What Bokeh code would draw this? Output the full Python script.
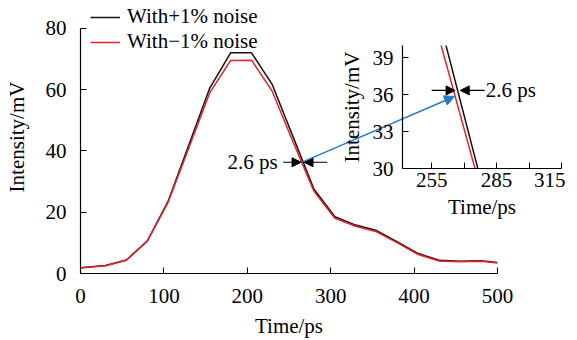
from bokeh.plotting import figure
from bokeh.models import (Range1d, FixedTicker, Legend, LegendItem, Arrow,
                          NormalHead, Label)
from bokeh.layouts import column
from bokeh.embed import file_html
from bokeh.resources import INLINE

# ---------------- data ----------------
time_ps = [0, 30, 55, 80, 105, 130, 155, 180, 205, 230, 255, 280, 305, 330,
           355, 380, 405, 430, 455, 480, 500]
plus_noise = [1.9, 2.6, 4.4, 10.6, 23.5, 42.0, 60.5, 72.0, 72.0, 61.6, 44.5,
              27.5, 18.5, 15.8, 14.0, 10.3, 6.5, 4.3, 4.0, 4.2, 3.6]
minus_noise = [1.8, 2.5, 4.3, 10.5, 23.2, 41.0, 59.0, 69.5, 69.6, 59.4, 42.8,
               26.8, 18.0, 15.4, 13.6, 10.0, 6.2, 4.1, 3.8, 4.0, 3.4]

main_x_ticks = [0, 100, 200, 300, 400, 500]
main_y_ticks = [0, 20, 40, 60, 80]
inset_x_ticks = [255, 285, 315]
inset_x_minor = [270, 300]
inset_y_ticks = [30, 33, 36, 39]

series_labels = ["With+1% noise", "With\u22121% noise"]
shift_label = "2.6 ps"

FONT = "Liberation Serif"
FS = "21px"
BLACK = "#111111"
RED = "#e8202a"
BLUE = "#2a7bc6"

# ---------------- layout constants ----------------
W, H = 577, 340
M_LEFT, M_RIGHT, M_TOP, M_BOTTOM = 80, 80, 0, 65
AXIS_TOP_PX = 28            # where the value 80 sits
MX0, MX1, MY0, MY_AX = 0, 500, 0, 80
FW = W - M_LEFT - M_RIGHT
FH = H - M_TOP - M_BOTTOM
MY1 = MY0 + (MY_AX - MY0) * FH / (H - M_BOTTOM - AXIS_TOP_PX)

I_LEFT_PX, I_TOP_PX = 322, 35
I_BL, I_BR, I_BT, I_BB = 79, 5, 10, 51
I_FW, I_FH = 159, 123
IX0, IX1, IY0, IY1 = 241.5, 315, 30, 40


def style_axis(ax, standoff, label_standoff):
    ax.axis_line_color = "black"
    ax.axis_line_width = 1.2
    ax.major_tick_line_color = "black"
    ax.major_tick_in = 6
    ax.major_tick_out = 0
    ax.minor_tick_in = 0
    ax.minor_tick_out = 0
    ax.major_label_text_font = FONT
    ax.major_label_text_font_size = FS
    ax.major_label_text_color = "black"
    ax.major_label_standoff = standoff
    ax.axis_label_text_font = FONT
    ax.axis_label_text_font_size = FS
    ax.axis_label_text_font_style = "normal"
    ax.axis_label_text_color = "black"
    ax.axis_label_standoff = label_standoff


# ---------------- main figure ----------------
p = figure(width=W, height=H, x_range=Range1d(MX0, MX1), y_range=Range1d(MY0, MY1),
           output_backend="svg", toolbar_location=None,
           min_border_left=M_LEFT, min_border_right=M_RIGHT,
           min_border_top=M_TOP, min_border_bottom=M_BOTTOM)
p.outline_line_color = None
p.grid.visible = False
p.xaxis.ticker = FixedTicker(ticks=main_x_ticks)
p.yaxis.ticker = FixedTicker(ticks=main_y_ticks)
p.yaxis.bounds = (MY0, MY_AX)
p.xaxis.axis_label = "Time/ps"
p.yaxis.axis_label = "Intensity/mV"
style_axis(p.xaxis[0], 15, 8)
style_axis(p.yaxis[0], 14, 14)

r1 = p.line(time_ps, plus_noise, line_color=BLACK, line_width=1.5)
r2 = p.line(time_ps, minus_noise, line_color=RED, line_width=1.5)

legend = Legend(items=[LegendItem(label=series_labels[0], renderers=[r1]),
                       LegendItem(label=series_labels[1], renderers=[r2])],
                location=(10, 219), padding=0, margin=0, spacing=0,
                glyph_width=30, glyph_height=22, label_height=22,
                label_standoff=7, label_text_font=FONT,
                label_text_font_size=FS, label_text_color="black",
                background_fill_alpha=0, border_line_color=None)
p.add_layout(legend)

# shift markers on main chart
cross_y = 36.3
head = dict(size=9, fill_color="black", line_color="black")
p.add_layout(Arrow(x_start=243, y_start=cross_y, x_end=264.5, y_end=cross_y,
                   line_width=1.2, line_color="black", end=NormalHead(**head)))
p.add_layout(Arrow(x_start=296, y_start=cross_y, x_end=268, y_end=cross_y,
                   line_width=1.2, line_color="black", end=NormalHead(**head)))
p.add_layout(Label(x=236.5, y=cross_y, text=shift_label, text_align="right",
                   text_baseline="middle", text_font=FONT, text_font_size=FS,
                   text_color="black"))


# blue arrow from the crossing point to the same point in the inset
def inset_to_main(vx, vy):
    px = I_LEFT_PX + I_BL + (vx - IX0) / (IX1 - IX0) * I_FW
    py = I_TOP_PX + I_BT + (IY1 - vy) / (IY1 - IY0) * I_FH
    return ((px - M_LEFT) / FW * (MX1 - MX0) + MX0,
            (H - M_BOTTOM - py) / FH * (MY1 - MY0) + MY0)


bx, by = inset_to_main(266.0, 35.8)
p.add_layout(Arrow(x_start=267.2, y_start=36.5, x_end=bx, y_end=by,
                   line_width=1.5, line_color=BLUE,
                   end=NormalHead(size=10, fill_color=BLUE, line_color=BLUE)))

# ---------------- inset figure ----------------
q = figure(frame_width=I_FW, frame_height=I_FH,
           x_range=Range1d(IX0, IX1), y_range=Range1d(IY0, IY1),
           output_backend="svg", toolbar_location=None,
           min_border_left=I_BL, min_border_right=I_BR,
           min_border_top=I_BT, min_border_bottom=I_BB,
           styles={"position": "absolute", "left": f"{I_LEFT_PX}px",
                   "top": f"{I_TOP_PX}px"})
q.background_fill_alpha = 0
q.border_fill_alpha = 0
q.outline_line_color = None
q.grid.visible = False
q.xaxis.ticker = FixedTicker(ticks=inset_x_ticks, minor_ticks=inset_x_minor)
q.yaxis.ticker = FixedTicker(ticks=inset_y_ticks)
q.xaxis.axis_label = "Time/ps"
q.yaxis.axis_label = "Intensity/mV"
style_axis(q.xaxis[0], 4, 5)
style_axis(q.yaxis[0], 9, 6)
q.xaxis.minor_tick_in = 6
q.xaxis.minor_tick_line_color = "black"

q.line(time_ps, plus_noise, line_color=BLACK, line_width=1.5)
q.line(time_ps, minus_noise, line_color=RED, line_width=1.5)

iy = 36.35
q.add_layout(Arrow(x_start=255, y_start=iy, x_end=265.8, y_end=iy,
                   line_width=1.2, line_color="black", end=NormalHead(**head)))
q.add_layout(Arrow(x_start=279.5, y_start=iy, x_end=268.2, y_end=iy,
                   line_width=1.2, line_color="black", end=NormalHead(**head)))
q.add_layout(Label(x=280, y=iy, text=shift_label, text_align="left",
                   text_baseline="middle", text_font=FONT, text_font_size=FS,
                   text_color="black"))

lay = column(p, q, width=W, height=H, styles={"position": "relative"})
open("out.html", "w").write(file_html(lay, INLINE))
